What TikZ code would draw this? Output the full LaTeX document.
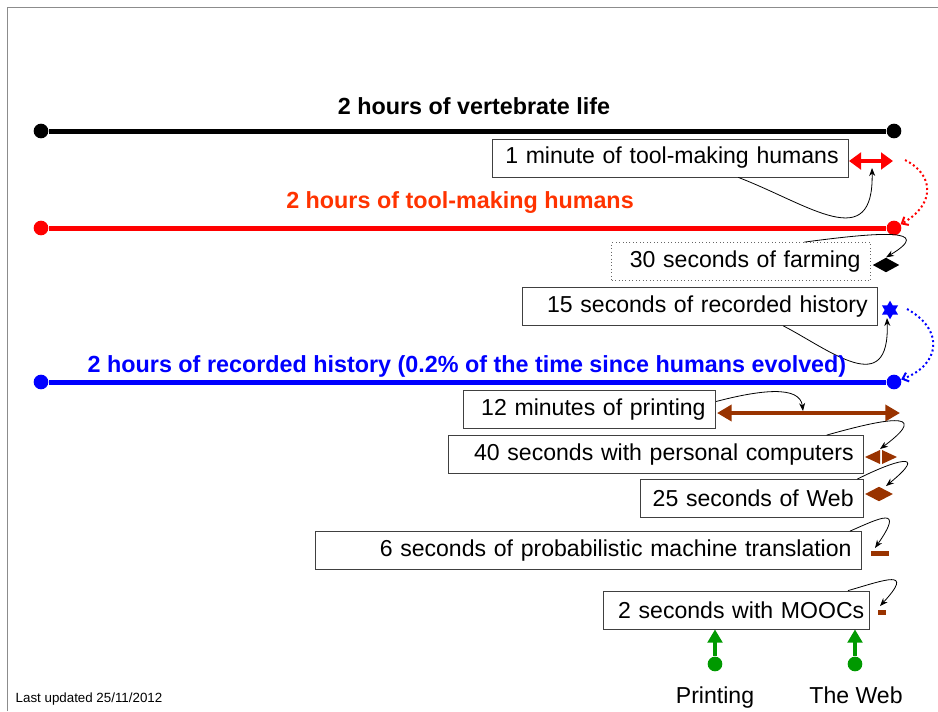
\documentclass[tikz,border=0pt]{standalone}
\usepackage{fontspec}
\setmainfont{Liberation Sans}
\usetikzlibrary{arrows.meta,shapes.geometric}

\definecolor{toolred}{RGB}{255,51,0}
\definecolor{printbrown}{RGB}{153,51,0}
\definecolor{markgreen}{RGB}{0,153,0}

\begin{document}
\begin{tikzpicture}[x=0.75pt, y=-0.75pt, font=\fontsize{17.3}{20}\selectfont]
  \tikzstyle{scale line}=[line width=3.75pt]
  \tikzstyle{scale title}=[font=\fontsize{17.5}{20}\selectfont\bfseries]
  \tikzstyle{end dot}=[circle, fill, inner sep=0pt, minimum size=11pt]
  \tikzstyle{era box}=[draw=black!75, line width=0.6pt, minimum height=28.5pt, inner xsep=7.5pt, align=right, anchor=east]
  \tikzstyle{pointer}=[-{Stealth[length=6pt, width=4.5pt]}, line width=0.6pt]
  \tikzstyle{jump}=[dotted, line width=1.5pt, -{Straight Barb[length=4pt, width=7pt]}]

  \useasboundingbox (0,0) rectangle (938,711);
  \draw[black!45] (7,711) -- (7,7) -- (938,7);

  % vertebrate life
  \node[scale title] (vTitle) at (474,106) {2 hours of vertebrate life};
  \node[end dot] (vL) at (41,131) {};
  \node[end dot] (vR) at (894,131) {};
  \draw[scale line] (vL) -- (vR);

  \node[era box, text width=252pt] (tool) at (849,158) {1 minute of tool-making humans};
  \coordinate (toolA) at (849,161);
  \coordinate (toolB) at (893,161);
  \draw[red, line width=3pt, {Triangle[length=9pt, width=12.5pt]}-{Triangle[length=9pt, width=12.5pt]}] (toolA) -- (toolB);
  \coordinate (toolMark) at (872,168);
  \draw[pointer] ([xshift=-83pt]tool.south east) .. controls (810,205) and (874,255) .. (toolMark);
  \coordinate (toolJump) at (905,160);

  % tool-making humans
  \node[scale title, text=toolred] (tTitle) at (460,203) {2 hours of tool-making humans};
  \node[end dot, red] (tL) at (41,228) {};
  \node[end dot, red] (tR) at (894,228) {};
  \draw[scale line, red] (tL) -- (tR);
  \draw[jump, red] (toolJump) .. controls (935,175) and (935,205) .. (tR.30);

  \node[era box, draw=black!60, dotted, text width=179.25pt] (farm) at (871,261.5) {30 seconds of farming};
  \node[diamond, fill, inner sep=0pt, minimum width=20pt, minimum height=11pt] (farmMark) at (886,265) {};
  \draw[pointer] ([xshift=-50pt]farm.north east) .. controls (880,232) and (935,228) .. (farmMark.north);

  \node[era box, text width=251.25pt] (rec) at (878,306.5) {15 seconds of recorded history};
  \node[star, star points=6, star point ratio=1.75, fill=blue, inner sep=0pt, minimum size=14pt] (recMark) at (890,310) {};
  \coordinate (recEnd) at (887,318);
  \draw[pointer] ([xshift=-71pt]rec.south east) .. controls (830,350) and (890,400) .. (recEnd);

  % recorded history
  \node[scale title, text=blue] (rTitle) at (467,366) {2 hours of recorded history (0.2\% of the time since humans evolved)};
  \node[end dot, blue] (rL) at (41,382) {};
  \node[end dot, blue] (rR) at (894,382) {};
  \draw[scale line, blue] (rL) -- (rR);
  \coordinate (recJump) at (907,309);
  \draw[jump, blue] (recJump) .. controls (945,330) and (940,365) .. (rR.20);

  \node[era box, text width=174pt] (print) at (716,409.5) {12 minutes of printing};
  \coordinate (printA) at (717,413);
  \coordinate (printB) at (900,413);
  \draw[printbrown, line width=3pt, {Triangle[length=11pt, width=12pt]}-{Triangle[length=11pt, width=12pt]}] (printA) -- (printB);
  \coordinate (printMid) at (803,411);
  \draw[pointer] ([yshift=6pt]print.east) .. controls (760,390) and (800,385) .. (printMid);

  \node[era box, text width=296.25pt] (pc) at (864,454.5) {40 seconds with personal computers};
  \fill[printbrown] (865,457) -- (880,450) -- (880,464) -- cycle;
  \fill[printbrown] (882,450) -- (897,457) -- (882,464) -- cycle;
  \coordinate (pcMark) at (880,449);
  \draw[pointer] ([xshift=-28pt]pc.north east) .. controls (880,420) and (935,408) .. (pcMark);

  \node[era box, text width=152.25pt] (web) at (864,498.5) {25 seconds of Web};
  \node[diamond, fill=printbrown, inner sep=0pt, minimum width=21pt, minimum height=11pt] (webMark) at (879,494) {};
  \coordinate (webEnd) at (886,486);
  \draw[pointer] ([xshift=-5pt]web.north east) .. controls (895,460) and (930,450) .. (webEnd);

  \node[era box, text width=394.5pt] (smt) at (862,550.5) {6 seconds of probabilistic machine translation};
  \node[fill=printbrown, inner sep=0pt, minimum width=14pt, minimum height=3.75pt] (smtMark) at (880,553.5) {};
  \coordinate (smtEnd) at (875,548);
  \draw[pointer] ([xshift=-9pt]smt.north east) .. controls (880,518) and (905,505) .. (smtEnd);

  \node[era box, inner xsep=4pt, text width=191.5pt] (mooc) at (870,610) {2 seconds with MOOCs};
  \node[fill=printbrown, inner sep=0pt, minimum width=5.5pt, minimum height=3.75pt] (moocMark) at (882,612.5) {};
  \coordinate (moocEnd) at (880,606);
  \draw[pointer] ([xshift=-16.5pt]mooc.north east) .. controls (885,580) and (915,568) .. (moocEnd);

  % printing and the web
  \node[end dot, markgreen] (pDot) at (715,664) {};
  \node[end dot, markgreen] (wDot) at (855,664) {};
  \draw[markgreen, line width=3pt, -{Triangle[length=10pt, width=11pt]}] (pDot) -- (mooc.south -| pDot);
  \draw[markgreen, line width=3pt, -{Triangle[length=10pt, width=11pt]}] (wDot) -- (mooc.south -| wDot);
  \node[anchor=base] (pLabel) at (715,703) {Printing};
  \node[anchor=base] (wLabel) at (856,703) {The Web};

  \node[anchor=west, font=\fontsize{10}{12}\selectfont] (stamp) at (11,699) {Last updated 25/11/2012};
\end{tikzpicture}
\end{document}
